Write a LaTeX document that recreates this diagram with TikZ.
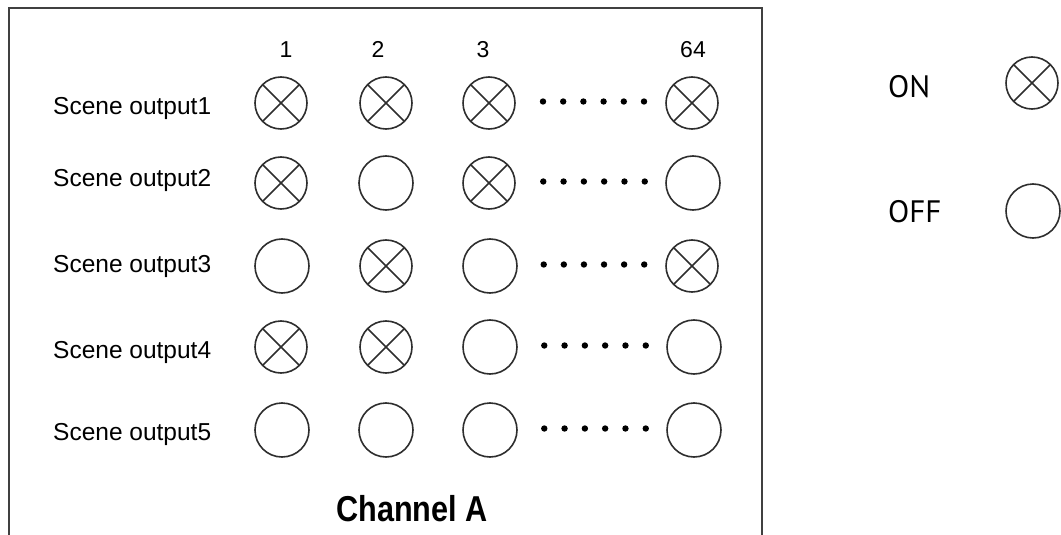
\documentclass[tikz,border=0pt]{standalone}
\usepackage{fontspec}
\setmainfont{Liberation Sans}
\newfontfamily\legendfont{PT Sans}
\usetikzlibrary{calc}

\begin{document}
\begin{tikzpicture}[x=1pt,y=-1pt,
  lamp/.style={circle, draw=black!82, line width=1.6pt, minimum size=52pt, inner sep=0pt},
  lampon/.style={lamp, path picture={
      \draw[line width=1.5pt, draw=black!82]
        (path picture bounding box.north west) -- (path picture bounding box.south east)
        (path picture bounding box.north east) -- (path picture bounding box.south west);}},
  lampoff/.style={lamp, minimum size=54pt},
  rowlabel/.style={anchor=base west, inner sep=0pt, font=\fontsize{24.5}{28}\selectfont},
  collabel/.style={anchor=base, inner sep=0pt, font=\fontsize{23}{28}\selectfont},
  keylabel/.style={anchor=base west, inner sep=0pt, font=\legendfont\fontsize{31}{36}\selectfont},
  dot/.style={fill=black}]

  \useasboundingbox (0,0) rectangle (1061,535);

  % frame, open at the bottom
  \draw[line width=1.8pt, draw=black!75] (9,535) -- (9,8) -- (762,8) -- (762,535);

  % column numbers
  \node[collabel] (n1)  at (286,58) {1};
  \node[collabel] (n2)  at (378,58) {2};
  \node[collabel] (n3)  at (483,58) {3};
  \node[collabel] (n64) at (693,58) {64};

  % row names
  \node[rowlabel] (s1) at (53,114) {Scene output1};
  \node[rowlabel] (s2) at (53,186) {Scene output2};
  \node[rowlabel] (s3) at (53,272) {Scene output3};
  \node[rowlabel] (s4) at (53,358) {Scene output4};
  \node[rowlabel] (s5) at (53,440) {Scene output5};

  % lamp states
  \node[lampon]  (r1c1)  at (281,103) {};
  \node[lampon]  (r1c2)  at (386,103) {};
  \node[lampon]  (r1c3)  at (489,103) {};
  \node[lampon]  (r1c64) at (692,103) {};

  \node[lampon]  (r2c1)  at (281,183) {};
  \node[lampoff] (r2c2)  at (386,183) {};
  \node[lampon]  (r2c3)  at (489,183) {};
  \node[lampoff] (r2c64) at (693,183) {};

  \node[lampoff] (r3c1)  at (282,266) {};
  \node[lampon]  (r3c2)  at (386,266) {};
  \node[lampoff] (r3c3)  at (490,266) {};
  \node[lampon]  (r3c64) at (692,266) {};

  \node[lampon]  (r4c1)  at (281,347) {};
  \node[lampon]  (r4c2)  at (386,347) {};
  \node[lampoff] (r4c3)  at (490,347) {};
  \node[lampoff] (r4c64) at (694,347) {};

  \node[lampoff] (r5c1)  at (282,430) {};
  \node[lampoff] (r5c2)  at (386,430) {};
  \node[lampoff] (r5c3)  at (490,430) {};
  \node[lampoff] (r5c64) at (694,430) {};

  % ellipsis dots between column 3 and column 64
  \foreach \row in {1,...,5}
    \foreach \k in {0,...,5}
      \fill[dot] ($(r\row c3)!{0.266+\k*0.0995}!(r\row c64) + (0,-1.5)$) circle [radius=3.2];

  \node[font=\bfseries\fontsize{36}{40}\selectfont, anchor=base, inner sep=0pt]
    (title) at (412,521) {\scalebox{0.85}[1]{Channel A}};

  % legend
  \node[keylabel] (kon)  at (888,98)  {ON};
  \node[keylabel] (koff) at (888,222) {OFF};
  \node[lampon]  (lon)  at (1032,83)  {};
  \node[lampoff] (loff) at (1033,211) {};
\end{tikzpicture}
\end{document}
